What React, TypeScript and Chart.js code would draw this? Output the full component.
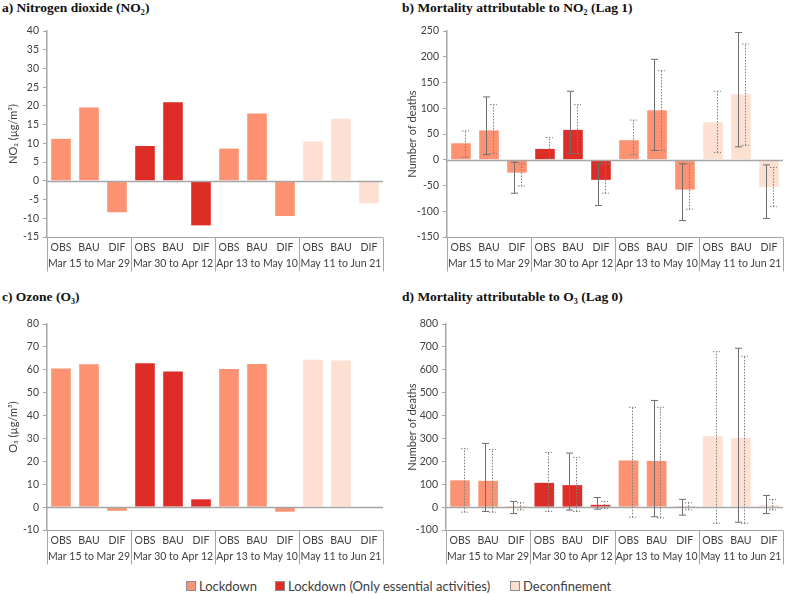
import React, { useEffect, useRef } from "react";
import { Chart, registerables } from "chart.js";

Chart.register(...registerables);

// ---------- data ----------
const subLabels = ["OBS", "BAU", "DIF", "OBS", "BAU", "DIF", "OBS", "BAU", "DIF", "OBS", "BAU", "DIF"];
const periods = ["Mar 15 to Mar 29", "Mar 30 to Apr 12", "Apr 13 to May 10", "May 11 to Jun 21"];
const periodPhase = [0, 1, 0, 2];
const legendLabels = ["Lockdown", "Lockdown (Only essential activities)", "Deconfinement"];
const phaseColors = ["#FC9272", "#DE2D26", "#FEE0D2"];

const no2Conc = [11.2, 19.6, -8.4, 9.3, 21.0, -11.9, 8.6, 18.0, -9.4, 10.5, 16.6, -6.0];
const o3Conc = [60.6, 62.4, -1.6, 62.8, 59.3, 3.4, 60.3, 62.5, -2.0, 64.4, 64.1, 0.2];

const no2Deaths = [32, 57, -25, 21, 58, -39, 38, 96, -58, 73, 127, -53];
const no2SolidLow = [null, 10, -65, null, 12, -89, null, 18, -118, null, 25, -114];
const no2SolidHigh = [null, 122, -5, null, 133, -8, null, 195, -8, null, 247, -10];
const no2DotLow = [5, 12, -51, 3, 12, -65, 10, 18, -96, 14, 28, -91];
const no2DotHigh = [56, 107, -8, 43, 107, -8, 77, 173, -8, 133, 225, -15];

const o3Deaths = [117, 115, 4, 106, 96, 10, 204, 201, 4, 310, 302, 9];
const o3SolidLow = [null, -19, -28, null, -13, -9, null, -42, -35, null, -66, -28];
const o3SolidHigh = [null, 278, 25, null, 236, 42, null, 466, 34, null, 694, 51];
const o3DotLow = [-22, -22, -12, -19, -19, -6, -44, -47, -12, -71, -71, -12];
const o3DotHigh = [255, 251, 19, 239, 217, 25, 436, 436, 19, 679, 659, 34];

// ---------- styling ----------
const FONT = "Lato, 'Open Sans', sans-serif";
const TEXT = "#404040";
const AXIS = "#A6A6A6";
const TICK_SIZE = 10.5;

const decorPlugin = {
  id: "panelDecor",
  afterDatasetsDraw(chart: any, _args: any, opts: any) {
    const { ctx, chartArea, scales } = chart;
    const x = scales.x;
    const y = scales.y;
    ctx.save();
    // zero line
    const y0 = Math.round(y.getPixelForValue(0)) + 0.5;
    ctx.strokeStyle = AXIS;
    ctx.lineWidth = 1.5;
    ctx.beginPath();
    ctx.moveTo(chartArea.left, y0);
    ctx.lineTo(chartArea.right, y0);
    ctx.stroke();
    // error bars
    const drawBar = (xp: number, lo: number, hi: number, dashed: boolean) => {
      const yl = y.getPixelForValue(lo);
      const yh = y.getPixelForValue(hi);
      ctx.setLineDash(dashed ? [1.5, 1.5] : []);
      ctx.strokeStyle = dashed ? "#7F7F7F" : "#6E6E6E";
      ctx.lineWidth = 1;
      ctx.beginPath();
      ctx.moveTo(xp, yl);
      ctx.lineTo(xp, yh);
      ctx.moveTo(xp - 3.5, yl);
      ctx.lineTo(xp + 3.5, yl);
      ctx.moveTo(xp - 3.5, yh);
      ctx.lineTo(xp + 3.5, yh);
      ctx.stroke();
    };
    if (opts && opts.solidLow) {
      for (let i = 0; i < subLabels.length; i++) {
        const cx = x.getPixelForValue(i);
        if (opts.solidLow[i] !== null) drawBar(Math.round(cx - 3) + 0.5, opts.solidLow[i], opts.solidHigh[i], false);
        if (opts.dotLow[i] !== null) drawBar(Math.round(cx + 3.5) + 0.5, opts.dotLow[i], opts.dotHigh[i], true);
      }
    }
    ctx.restore();
  },
  afterDraw(chart: any) {
    const { ctx, chartArea, scales } = chart;
    const x = scales.x;
    const slot = x.getPixelForValue(1) - x.getPixelForValue(0);
    ctx.save();
    ctx.strokeStyle = AXIS;
    ctx.lineWidth = 1;
    const b = Math.round(chartArea.bottom) + 0.5;
    ctx.beginPath();
    ctx.moveTo(chartArea.left, b);
    ctx.lineTo(chartArea.right, b);
    for (let k = 0; k <= periods.length; k++) {
      const px = Math.round(x.getPixelForValue(k * 3) - slot / 2) + 0.5;
      ctx.moveTo(px, b);
      ctx.lineTo(px, b + 34);
    }
    ctx.stroke();
    ctx.fillStyle = TEXT;
    ctx.font = `${TICK_SIZE}px ${FONT}`;
    ctx.textAlign = "center";
    ctx.textBaseline = "middle";
    periods.forEach((p, k) => {
      ctx.fillText(p, x.getPixelForValue(k * 3 + 1), chartArea.bottom + 27);
    });
    ctx.restore();
  },
};

type PanelProps = {
  left: number;
  top: number;
  width: number;
  axisWidth: number;
  padRight: number;
  titlePad: number;
  values: number[];
  min: number;
  max: number;
  step: number;
  yTitle: string;
  errors?: any;
};

function Panel(p: PanelProps) {
  const ref = useRef<HTMLCanvasElement>(null);
  useEffect(() => {
    const colors = subLabels.map((_, i) => phaseColors[periodPhase[Math.floor(i / 3)]]);
    const chart = new Chart(ref.current as HTMLCanvasElement, {
      type: "bar",
      data: {
        labels: subLabels,
        datasets: [
          {
            data: p.values,
            backgroundColor: colors,
            borderWidth: 0,
            barPercentage: 0.7,
            categoryPercentage: 1,
          },
        ],
      },
      options: {
        animation: false,
        responsive: false,
        maintainAspectRatio: false,
        devicePixelRatio: 1,
        layout: { padding: { top: 11, right: p.padRight, left: 0, bottom: 0 } },
        plugins: {
          legend: { display: false },
          tooltip: { enabled: false },
          panelDecor: p.errors || {},
        } as any,
        scales: {
          x: {
            type: "category",
            grid: { display: false, drawTicks: false },
            border: { display: false },
            ticks: { font: { family: FONT, size: TICK_SIZE }, color: TEXT, padding: 4, maxRotation: 0, autoSkip: false },
            afterFit: (s: any) => {
              s.height = 43;
            },
          },
          y: {
            min: p.min,
            max: p.max,
            ticks: { stepSize: p.step, font: { family: FONT, size: TICK_SIZE }, color: TEXT, padding: 4 },
            grid: { drawOnChartArea: false, drawTicks: true, tickLength: 4, color: AXIS },
            border: { color: AXIS, width: 1.5 },
            title: {
              display: true,
              text: p.yTitle,
              font: { family: FONT, size: 11 },
              color: TEXT,
              padding: { top: p.titlePad, bottom: 0 },
            },
            afterFit: (s: any) => {
              s.width = p.axisWidth;
            },
          },
        },
      },
      plugins: [decorPlugin],
    });
    return () => chart.destroy();
  }, []);
  return (
    <canvas
      ref={ref}
      width={p.width}
      height={260}
      style={{ position: "absolute", left: p.left, top: p.top, width: p.width, height: 260 }}
    />
  );
}

const titleStyle: React.CSSProperties = {
  position: "absolute",
  fontFamily: "'Liberation Serif', 'DejaVu Serif', serif",
  fontWeight: "bold",
  fontSize: 13.5,
  lineHeight: "16px",
  color: "#111",
  whiteSpace: "nowrap",
};

export default function App() {
  const legendLeft = [186, 275, 510];
  return (
    <div style={{ position: "absolute", left: 0, top: 0, width: 789, height: 594, background: "#fff", overflow: "hidden" }}>
      <div style={{ ...titleStyle, left: 2, top: 0 }}>a) Nitrogen dioxide (NO₂)</div>
      <div style={{ ...titleStyle, left: 402, top: 0 }}>b) Mortality attributable to NO₂ (Lag 1)</div>
      <div style={{ ...titleStyle, left: 2, top: 289 }}>c) Ozone (O₃)</div>
      <div style={{ ...titleStyle, left: 402, top: 289 }}>d) Mortality attributable to O₃ (Lag 0)</div>

      <Panel left={0} top={20} width={395} axisWidth={47} padRight={12} titlePad={6.4}
        values={no2Conc} min={-15} max={40} step={5} yTitle="NO₂ (µg/m³)" />
      <Panel left={395} top={20} width={394} axisWidth={52} padRight={6} titlePad={10.4}
        values={no2Deaths} min={-150} max={250} step={50} yTitle="Number of deaths"
        errors={{ solidLow: no2SolidLow, solidHigh: no2SolidHigh, dotLow: no2DotLow, dotHigh: no2DotHigh }} />
      <Panel left={0} top={313} width={395} axisWidth={47} padRight={12} titlePad={6.4}
        values={o3Conc} min={-10} max={80} step={10} yTitle="O₃ (µg/m³)" />
      <Panel left={395} top={313} width={394} axisWidth={51} padRight={6} titlePad={10.4}
        values={o3Deaths} min={-100} max={800} step={100} yTitle="Number of deaths"
        errors={{ solidLow: o3SolidLow, solidHigh: o3SolidHigh, dotLow: o3DotLow, dotHigh: o3DotHigh }} />

      {legendLabels.map((l, i) => (
        <div key={l} style={{ position: "absolute", left: legendLeft[i], top: 578, height: 16, display: "flex", alignItems: "center", fontFamily: FONT, fontSize: 13, color: TEXT, whiteSpace: "nowrap" }}>
          <span style={{ display: "inline-block", width: 8, height: 8, background: phaseColors[i], border: "1px solid #8C8C8C", marginRight: 3 }} />
          {l}
        </div>
      ))}
    </div>
  );
}
